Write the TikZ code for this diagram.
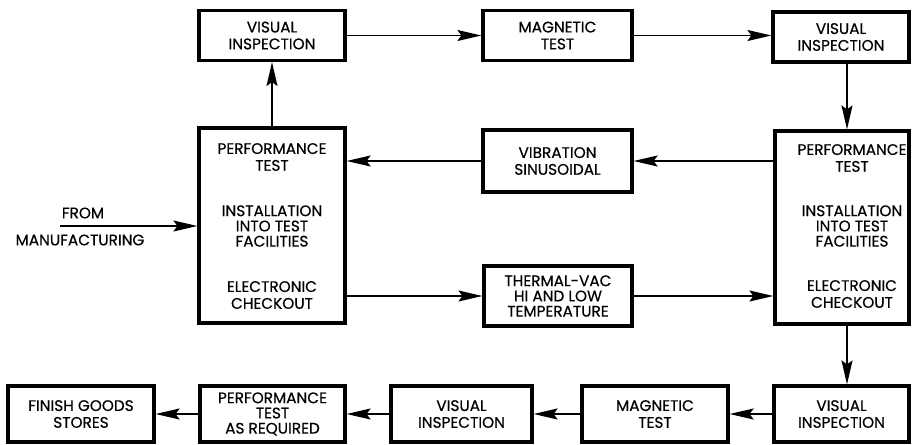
\documentclass[tikz,border=0pt]{standalone}
\usepackage{fontspec}
\setmainfont{Poppins}[FakeBold=0.5]
\usetikzlibrary{arrows.meta,calc}
\begin{document}
\begin{tikzpicture}[x=1pt,y=-1pt,
  box/.style={draw,line width=3.2pt,inner sep=0pt,align=center,font=\fontsize{15.3}{16.8}\selectfont},
  txt/.style={align=center,inner sep=0pt,font=\fontsize{15.3}{16.8}\selectfont},
  tight/.style={font=\fontsize{15.3}{15.2}\selectfont},
  flow/.style={line width=1.6pt,-{Stealth[length=24pt,width=11pt,inset=4pt]}}]
\useasboundingbox (0,0) rectangle (912,444);
% top row
\node[box,minimum width=146pt,minimum height=50pt] (vi1) at (272,35.5) {VISUAL\\INSPECTION};
\node[box,minimum width=149pt,minimum height=50pt] (mt1) at (557.5,35.5) {MAGNETIC\\TEST};
\node[box,minimum width=136pt,minimum height=50pt] (vi2) at (841,37) {VISUAL\\INSPECTION};
% middle
\node[box,minimum width=146pt,minimum height=195pt] (pt1) at (272,225.5) {};
\node[txt] (pt1a) at (272,157) {PERFORMANCE\\TEST};
\node[txt,tight] (pt1b) at (272,226) {INSTALLATION\\INTO TEST\\FACILITIES};
\node[txt] (pt1c) at (272,295) {ELECTRONIC\\CHECKOUT};
\node[box,minimum width=149pt,minimum height=62pt] (vib) at (557.5,161) {VIBRATION\\SINUSOIDAL};
\node[box,tight,minimum width=148pt,minimum height=60pt] (thr) at (558,296) {THERMAL-VAC\\HI AND LOW\\TEMPERATURE};
\node[box,minimum width=134pt,minimum height=193pt] (pt2) at (842,227.5) {};
\node[txt] (pt2a) at (852,158) {PERFORMANCE\\TEST};
\node[txt,tight] (pt2b) at (852,226) {INSTALLATION\\INTO TEST\\FACILITIES};
\node[txt] (pt2c) at (852,294) {ELECTRONIC\\CHECKOUT};
\node[txt] (from) at (83,213) {FROM};
\node[txt] (manu) at (80,240) {MANUFACTURING};
\coordinate (src) at (60,226);
% bottom
\node[box,minimum width=146pt,minimum height=56pt] (fg) at (81,414) {FINISH GOODS\\STORES};
\node[box,tight,minimum width=145pt,minimum height=56pt] (pt3) at (272.5,414) {PERFORMANCE\\TEST\\AS REQUIRED};
\node[box,minimum width=141pt,minimum height=56pt] (vi4) at (461.5,414) {VISUAL\\INSPECTION};
\node[box,minimum width=146pt,minimum height=56pt] (mt2) at (655,414) {MAGNETIC\\TEST};
\node[box,minimum width=135pt,minimum height=56pt] (vi5) at (841.5,414) {VISUAL\\INSPECTION};
\coordinate (rx) at (847,0);
% connectors
\draw[flow] (vi1.east) -- (vi1.east -| mt1.west);
\draw[flow] (mt1.east) -- (mt1.east -| vi2.west);
\draw[flow] (pt1.north) -- (vi1.south);
\draw[flow] (vi2.south -| rx) -- (pt2.north -| rx);
\draw[flow] (vib.east -| pt2.west) -- (vib.east);
\draw[flow] (vib.west) -- (vib.west -| pt1.east);
\draw[flow] (thr.west -| pt1.east) -- (thr.west);
\draw[flow] (thr.east) -- (thr.east -| pt2.west);
\draw[flow] (src) -- (src -| pt1.west);
\draw[flow] (pt2.south -| rx) -- (vi5.north -| rx);
\draw[flow] (vi5.west) -- (mt2.east);
\draw[flow] (mt2.west) -- (vi4.east);
\draw[flow] (vi4.west) -- (pt3.east);
\draw[flow] (pt3.west) -- (fg.east);
\end{tikzpicture}
\end{document}
